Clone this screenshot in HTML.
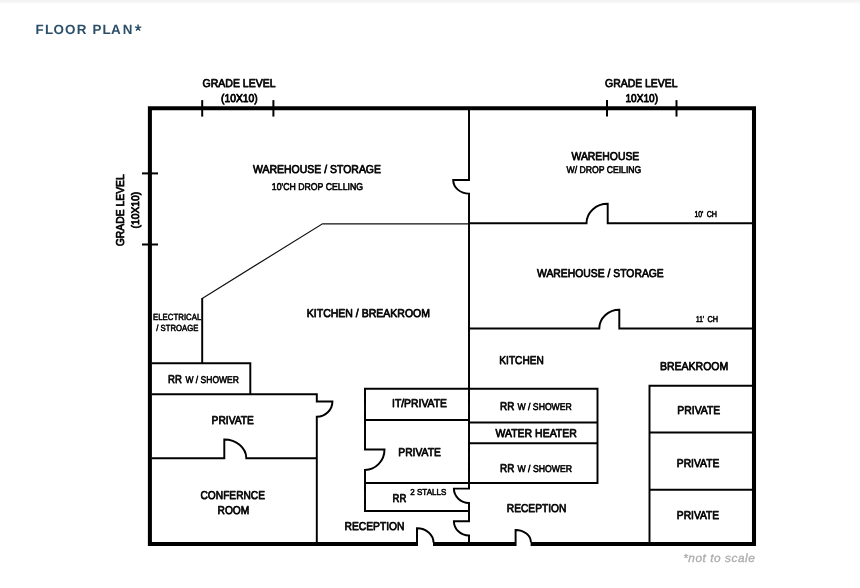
<!DOCTYPE html>
<html><head><meta charset="utf-8"><title>Floor Plan</title>
<style>
html,body{margin:0;padding:0;background:#fff;}
body{width:860px;height:588px;position:relative;overflow:hidden;font-family:"Liberation Sans",sans-serif;}
.topbar{position:absolute;left:0;top:0;width:860px;height:4px;background:linear-gradient(#f3f3f3 0,#f5f5f5 50%,#fff 100%);}
.title{position:absolute;left:35.6px;top:19.2px;font-size:13.5px;font-weight:700;letter-spacing:1.05px;color:#2c4f69;line-height:20px;white-space:nowrap;}
.note{position:absolute;left:683px;top:549px;font-size:12px;font-style:italic;letter-spacing:0.9px;color:#ababab;line-height:16px;white-space:nowrap;}
</style></head><body>
<div class="topbar"></div>
<svg width="860" height="588" viewBox="0 0 860 588" style="position:absolute;left:0;top:0;will-change:transform;opacity:0.999">
<g fill="none" stroke="#000" stroke-width="4.05" stroke-linecap="butt" stroke-linejoin="miter">
<path d="M417.5 543.9 H149.9 V108.2 H754.0 V543.9 H530.6 M516 543.9 H433"/>
</g>
<g stroke="#000" stroke-width="2">
<line x1="202.2" y1="100.1" x2="202.2" y2="116.6"/>
<line x1="273.4" y1="100.1" x2="273.4" y2="116.6"/>
<line x1="607" y1="100.1" x2="607" y2="116.6"/>
<line x1="676.5" y1="100.1" x2="676.5" y2="116.6"/>
<line x1="142" y1="173.4" x2="158" y2="173.4"/>
<line x1="142" y1="244.5" x2="158" y2="244.5"/>
</g>
<path d="M469 223.8 H322.5 L202.2 298.4" fill="none" stroke="#111" stroke-width="1.15"/>
<g fill="none" stroke="#000" stroke-width="1.95" stroke-linejoin="miter" stroke-linecap="butt">
<path d="M469.0 110 V180.0 H453.2 A15.8 13.6 0 0 0 469.0 193.6 V488.6 H453.9 A15.1 14.3 0 0 0 469.0 502.9 V521.2 H453.9 A15.1 14.3 0 0 0 469.0 535.5 V542.5 M469.0 223.3 H586.5 A21.2 19.5 0 0 1 607.7 203.8 V223.3 H752.5 M469.0 328.55 H599.3 A20 18.9 0 0 1 619.3 309.65 V328.55 H752.5 M469.0 388.7 H597.5 V483 H469.0 M469.0 422.5 H597.5 M469.0 443.3 H597.5 M752.5 385.8 H649.5 V542.5 M649.5 432.5 H752.5 M649.5 489.8 H752.5 M202.2 298 V363.3 M152 363.3 H250.3 V394.3 M152 394.3 H316.8 V401.5 H332.4 A15.6 15.3 0 0 1 316.8 416.8 V542.5 M152 458.3 H224.3 V439.5 A22 18.8 0 0 1 246.3 458.3 H316.8 M469.0 388.7 H365 V449.5 H384.5 A19.5 20.4 0 0 1 365 469.9 V510.9 H469.0 M365 420 H469.0 M365 483 H469.0 M417 545.9 V528.3 A16.5 14.3 0 0 1 433.5 542.6 M515.6 545.9 V530 A15.3 12.2 0 0 1 530.9 542.2"/>
</g>
<g font-family="Liberation Sans, sans-serif" fill="#000" stroke="#000" stroke-linejoin="round" text-rendering="geometricPrecision">
<text x="202.5" y="86.8" font-size="11.4" stroke-width="0.75" textLength="73.1" lengthAdjust="spacingAndGlyphs">GRADE LEVEL</text>
<text x="221.0" y="101.7" font-size="11.3" stroke-width="0.85" textLength="36.8" lengthAdjust="spacingAndGlyphs">(10X10)</text>
<text x="605" y="86.8" font-size="11.4" stroke-width="0.75" textLength="72.6" lengthAdjust="spacingAndGlyphs">GRADE LEVEL</text>
<text x="625.5" y="101.7" font-size="11.3" stroke-width="0.85" textLength="32.5" lengthAdjust="spacingAndGlyphs">10X10)</text>
<text x="253" y="173.0" font-size="11.4" stroke-width="0.75" textLength="128" lengthAdjust="spacingAndGlyphs">WAREHOUSE / STORAGE</text>
<text x="271.8" y="190.0" font-size="9.8" stroke-width="0.6" textLength="91.2" lengthAdjust="spacingAndGlyphs">10'CH DROP CELLING</text>
<text x="571.5" y="160.0" font-size="11.4" stroke-width="0.75" textLength="67.8" lengthAdjust="spacingAndGlyphs">WAREHOUSE</text>
<text x="566.5" y="173.0" font-size="9.8" stroke-width="0.6" textLength="74.8" lengthAdjust="spacingAndGlyphs">W/ DROP CEILING</text>
<text x="694.5" y="217.4" font-size="8.5" stroke-width="0.6" textLength="8.9" lengthAdjust="spacingAndGlyphs">10'</text>
<text x="706.7" y="217.4" font-size="8.5" stroke-width="0.6" textLength="10.3" lengthAdjust="spacingAndGlyphs">CH</text>
<text x="537" y="277.2" font-size="11.4" stroke-width="0.75" textLength="126.8" lengthAdjust="spacingAndGlyphs">WAREHOUSE / STORAGE</text>
<text x="696.1" y="321.9" font-size="8.5" stroke-width="0.6" textLength="7.9" lengthAdjust="spacingAndGlyphs">11'</text>
<text x="707.5" y="321.9" font-size="8.5" stroke-width="0.6" textLength="10.6" lengthAdjust="spacingAndGlyphs">CH</text>
<text x="306.8" y="316.7" font-size="11.4" stroke-width="0.75" textLength="123.2" lengthAdjust="spacingAndGlyphs">KITCHEN / BREAKROOM</text>
<text x="153" y="319.7" font-size="8.9" stroke-width="0.55" textLength="48.3" lengthAdjust="spacingAndGlyphs">ELECTRICAL</text>
<text x="156.3" y="330.5" font-size="8.9" stroke-width="0.55" textLength="42.0" lengthAdjust="spacingAndGlyphs">/ STROAGE</text>
<text x="168" y="382.7" font-size="11.4" stroke-width="0.75" textLength="13.8" lengthAdjust="spacingAndGlyphs">RR</text>
<text x="185.5" y="382.7" font-size="9.8" stroke-width="0.6" textLength="53.3" lengthAdjust="spacingAndGlyphs">W / SHOWER</text>
<text x="211.6" y="424.0" font-size="11.4" stroke-width="0.75" textLength="42.2" lengthAdjust="spacingAndGlyphs">PRIVATE</text>
<text x="200.5" y="499.0" font-size="11.4" stroke-width="0.75" textLength="64.5" lengthAdjust="spacingAndGlyphs">CONFERNCE</text>
<text x="217.5" y="514.2" font-size="11.4" stroke-width="0.75" textLength="31.8" lengthAdjust="spacingAndGlyphs">ROOM</text>
<text x="392" y="406.5" font-size="11.4" stroke-width="0.75" textLength="55" lengthAdjust="spacingAndGlyphs">IT/PRIVATE</text>
<text x="398.3" y="455.7" font-size="11.4" stroke-width="0.75" textLength="42.5" lengthAdjust="spacingAndGlyphs">PRIVATE</text>
<text x="392.5" y="501.7" font-size="11.4" stroke-width="0.75" textLength="13.8" lengthAdjust="spacingAndGlyphs">RR</text>
<text x="410.3" y="495.3" font-size="8.7" stroke-width="0.55" textLength="36.0" lengthAdjust="spacingAndGlyphs">2 STALLS</text>
<text x="344.5" y="529.7" font-size="11.4" stroke-width="0.75" textLength="60.0" lengthAdjust="spacingAndGlyphs">RECEPTION</text>
<text x="499.3" y="364.0" font-size="11.4" stroke-width="0.75" textLength="44.5" lengthAdjust="spacingAndGlyphs">KITCHEN</text>
<text x="660" y="369.7" font-size="11.4" stroke-width="0.75" textLength="68.3" lengthAdjust="spacingAndGlyphs">BREAKROOM</text>
<text x="500" y="410.3" font-size="11.4" stroke-width="0.75" textLength="14.3" lengthAdjust="spacingAndGlyphs">RR</text>
<text x="517.5" y="410.3" font-size="9.8" stroke-width="0.6" textLength="54.3" lengthAdjust="spacingAndGlyphs">W / SHOWER</text>
<text x="495.5" y="436.5" font-size="11.4" stroke-width="0.75" textLength="81.3" lengthAdjust="spacingAndGlyphs">WATER HEATER</text>
<text x="500" y="471.5" font-size="11.4" stroke-width="0.75" textLength="14.3" lengthAdjust="spacingAndGlyphs">RR</text>
<text x="517.5" y="471.5" font-size="9.8" stroke-width="0.6" textLength="54.5" lengthAdjust="spacingAndGlyphs">W / SHOWER</text>
<text x="506.8" y="511.5" font-size="11.4" stroke-width="0.75" textLength="59.5" lengthAdjust="spacingAndGlyphs">RECEPTION</text>
<text x="677.3" y="414.0" font-size="11.4" stroke-width="0.75" textLength="43.0" lengthAdjust="spacingAndGlyphs">PRIVATE</text>
<text x="676.8" y="466.9" font-size="11.4" stroke-width="0.75" textLength="42.5" lengthAdjust="spacingAndGlyphs">PRIVATE</text>
<text x="676.8" y="518.9" font-size="11.4" stroke-width="0.75" textLength="42.4" lengthAdjust="spacingAndGlyphs">PRIVATE</text>
<g transform="translate(124.0,246.2) rotate(-90)"><text x="0" y="0" font-size="11.4" stroke-width="0.75" textLength="72" lengthAdjust="spacingAndGlyphs">GRADE LEVEL</text></g>
<g transform="translate(139.3,228.5) rotate(-90)"><text x="0" y="0" font-size="10.9" stroke-width="0.8" textLength="36.7" lengthAdjust="spacingAndGlyphs">(10X10)</text></g>
</g>
<text x="35.6 45 53.4 65 76.7 86 92.5 102.5 110.9 122.7" y="33.8" font-family="Liberation Sans, sans-serif" font-size="13.4" font-weight="700" fill="#2c4f69" text-rendering="geometricPrecision">FLOOR PLAN</text>
<path d="M138.1 27.9 L138.10 24.60 M138.1 27.9 L141.24 26.88 M138.1 27.9 L140.04 30.57 M138.1 27.9 L136.16 30.57 M138.1 27.9 L134.96 26.88" stroke="#2c4f69" stroke-width="1.5" fill="none"/>
<text x="683.2" y="562.3" font-family="Liberation Sans, sans-serif" font-size="11.8" font-style="italic" text-rendering="geometricPrecision" fill="#adadad" stroke="#adadad" stroke-width="0.35" textLength="71.6" lengthAdjust="spacing">*not to scale</text>
</svg>
</body></html>
